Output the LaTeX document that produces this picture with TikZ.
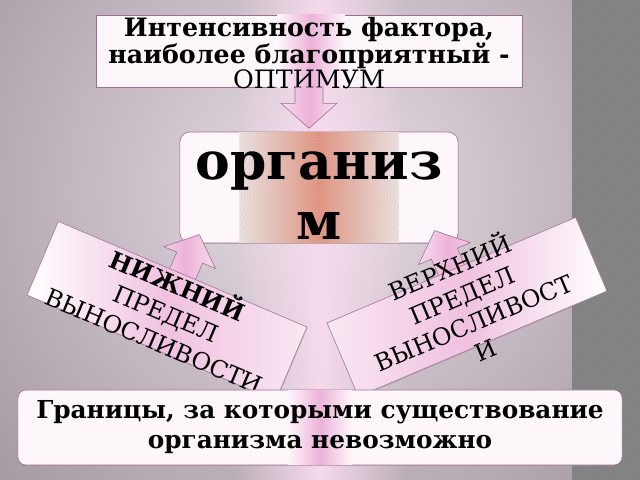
\documentclass[tikz,border=0pt]{standalone}
\usepackage{fontspec}
\setmainfont{DejaVu Serif}
\usetikzlibrary{calc}
\usetikzlibrary{shadows}
\usetikzlibrary{fadings}

\definecolor{bgmauve}{RGB}{164,152,162}
\definecolor{bglight}{RGB}{232,222,229}
\definecolor{beampink}{RGB}{246,218,236}
\definecolor{pinkfill}{RGB}{236,178,216}
\definecolor{pinkedge}{RGB}{158,110,140}
\definecolor{boxwhite}{RGB}{253,247,251}
\definecolor{salmon}{RGB}{226,146,126}
\definecolor{ringedge}{RGB}{236,226,226}
\definecolor{checkdark}{RGB}{104,104,104}
\definecolor{checklight}{RGB}{132,132,132}

\tikzfading[name=beamfade,
  left color=transparent!100, right color=transparent!100,
  middle color=transparent!0]

\tikzset{
  slide box/.style = {
    draw = pinkedge,
    fill = boxwhite,
    line width = 0.4pt,
    inner sep = 0,
    drop shadow = {shadow xshift=0.5pt, shadow yshift=-0.7pt, opacity=0.3}
  },
  % pink band laid down the middle of a box
  band/.style = {
    left color = boxwhite,
    right color = boxwhite,
    middle color = pinkfill
  },
  % tilted box for the two limits
  limit box/.style = {
    slide box,
    minimum width = 6.75cm,
    minimum height = 2cm
  },
  limit text/.style = {
    align = center,
    inner sep = 0,
    font = \fontsize{17}{21.3}\selectfont
  },
  arrow body/.style = {
    draw = pinkedge,
    line width = 0.4pt,
    left color = pinkfill!45!white,
    right color = pinkfill!45!white,
    middle color = pinkfill
  },
  pics/fatarrow/.style = {
    code = {
      \draw[arrow body] (-14,0) -- (-14,#1-25) -- (-28,#1-25) -- (0,#1)
        -- (28,#1-25) -- (14,#1-25) -- (14,0);
    }
  }
}

\begin{document}
\begin{tikzpicture}[x=0.025cm, y=-0.025cm]
  \useasboundingbox (0,0) rectangle (640,480);

  % backdrop
  \begin{scope}
    \clip (0,0) rectangle (572,480);
    \shade[inner color=bglight, outer color=bgmauve] (320,190) circle (440);
  \end{scope}
  \fill[checkdark] (572,0) rectangle (640,480);
  \begin{scope}
    \clip (572,0) rectangle (640,480);
    \foreach \j [evaluate=\j as \off using {mod(\j,2)*11}] in {0,...,44}
      \foreach \i in {0,2,4,6}
        \fill[checklight] ({572+\i*11+\off},{\j*11})
          ++(-11,0) -- ++(11,-11) -- ++(11,11) -- ++(-11,11) -- cycle;
  \end{scope}
  \fill[beampink, path fading=beamfade] (235,0) rectangle (405,480);

  % optimum
  \node[slide box, minimum width=10.65cm, minimum height=1.8cm] (optimum) at (309,51) {};
  \shade[band] ($(optimum.north)+(-32,0)$) rectangle ($(optimum.south)+(36,0)$);
  \node[align=center, inner sep=0, font=\fontsize{18}{17.8}\selectfont]
    (optimumtext) at (309,53)
    {\textbf{Интенсивность фактора,}\\\textbf{наиболее благоприятный -}\\ОПТИМУМ};
  \pic at (optimum.south) {fatarrow=41};

  % organism
  \node[slide box, rounded corners=0.25cm, minimum width=6.95cm, minimum height=2.775cm]
    (organism) at (319,187.5) {};
  \shade[left color=ringedge, right color=ringedge, middle color=salmon]
    ($(organism.north)+(-80,0.5)$) rectangle ($(organism.south)+(80,-0.5)$);
  \begin{scope}
    \clip ($(organism.north)+(-79,0.5)$) rectangle ($(organism.south)+(79,-0.5)$);
    \foreach \r in {3,6,...,150}
      \draw[gray!50, line width=0.35pt, opacity=0.45] (organism.center) circle (\r);
  \end{scope}
  \node[align=center, inner sep=0, font=\bfseries\fontsize{37}{42.7}\selectfont]
    (organismtext) at ($(organism.center)+(0,8)$) {организ\\м};

  % limits
  \coordinate (lowmid) at (167,311);
  \coordinate (highmid) at (467,307);
  \pic[rotate=157] at (lowmid) {fatarrow=83};
  \pic[rotate=203] at (highmid) {fatarrow=83};

  \node[limit box, rotate=-23, left color=white, right color=pinkfill!30,
    middle color=pinkfill!80] (lowlim) at (lowmid) {};
  \node[limit text, rotate=-23] (lowlimtext) at (lowlim.center)
    {\textbf{НИЖНИЙ}\\ПРЕДЕЛ\\ВЫНОСЛИВОСТИ};

  \node[limit box, rotate=23, left color=pinkfill!30, right color=white,
    middle color=pinkfill!80] (highlim) at (highmid) {};
  \node[limit text, rotate=23] (highlimtext) at (highlim.center)
    {ВЕРХНИЙ\\ПРЕДЕЛ\\ВЫНОСЛИВОСТ\\И};

  % bounds
  \node[slide box, rounded corners=0.2cm, minimum width=15.1cm, minimum height=1.875cm]
    (limits) at (320,427.5) {};
  \shade[band] ($(limits.north)+(-32,0.5)$) rectangle ($(limits.south)+(32,-0.5)$);
  \node[align=center, inner sep=0, font=\bfseries\fontsize{17.6}{21.3}\selectfont]
    (limitstext) at (limits.center) {Границы, за которыми существование\\организма невозможно};
\end{tikzpicture}
\end{document}
